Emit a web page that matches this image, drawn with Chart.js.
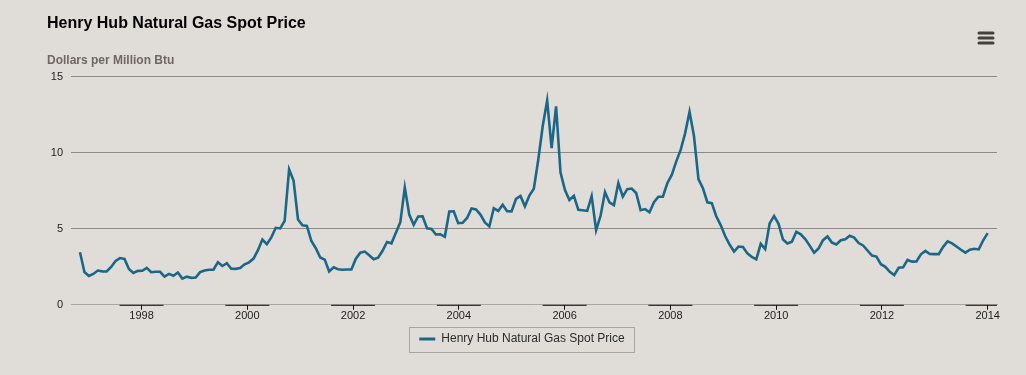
<!DOCTYPE html>
<html>
<head>
<meta charset="utf-8">
<script src="https://cdn.jsdelivr.net/npm/chart.js@4.4.1/dist/chart.umd.min.js"></script>
<style>
  html, body { margin: 0; padding: 0; background: #e0ddd9; }
  #wrap { position: relative; width: 1026px; height: 375px; }
</style>
</head>
<body>
<div id="wrap"><canvas id="c" width="1026" height="375"></canvas></div>
<script>
// Henry Hub monthly spot price, Jan 1997 – Jan 2014 (dollars per million Btu)
const prices1997 = [3.45, 2.15, 1.89, 2.03, 2.25, 2.20, 2.19, 2.49, 2.88, 3.07, 3.01, 2.35];
const prices1998 = [2.09, 2.23, 2.24, 2.43, 2.14, 2.17, 2.17, 1.85, 2.03, 1.91, 2.12, 1.72];
const prices1999 = [1.85, 1.77, 1.79, 2.15, 2.26, 2.30, 2.31, 2.80, 2.55, 2.73, 2.37, 2.36];
const prices2000 = [2.42, 2.66, 2.79, 3.04, 3.59, 4.29, 3.99, 4.43, 5.06, 5.02, 5.52, 8.90];
const prices2001 = [8.17, 5.61, 5.23, 5.19, 4.19, 3.72, 3.11, 2.97, 2.19, 2.46, 2.34, 2.30];
const prices2002 = [2.32, 2.32, 3.03, 3.43, 3.50, 3.26, 2.99, 3.09, 3.55, 4.13, 4.04, 4.74];
const prices2003 = [5.43, 7.71, 5.93, 5.26, 5.81, 5.82, 5.03, 4.99, 4.62, 4.63, 4.47, 6.13];
const prices2004 = [6.14, 5.37, 5.39, 5.71, 6.33, 6.27, 5.93, 5.41, 5.15, 6.35, 6.17, 6.58];
const prices2005 = [6.15, 6.14, 6.96, 7.16, 6.47, 7.18, 7.63, 9.53, 11.75, 13.42, 10.30, 13.05];
const prices2006 = [8.69, 7.54, 6.89, 7.16, 6.25, 6.21, 6.17, 7.14, 4.90, 5.85, 7.41, 6.73];
const prices2007 = [6.55, 8.00, 7.11, 7.60, 7.64, 7.35, 6.22, 6.29, 6.08, 6.74, 7.10, 7.11];
const prices2008 = [7.99, 8.54, 9.41, 10.18, 11.27, 12.69, 11.09, 8.26, 7.67, 6.74, 6.68, 5.82];
const prices2009 = [5.24, 4.52, 3.96, 3.50, 3.83, 3.80, 3.38, 3.14, 2.99, 4.01, 3.66, 5.35];
const prices2010 = [5.83, 5.32, 4.29, 4.03, 4.14, 4.80, 4.63, 4.32, 3.89, 3.43, 3.71, 4.25];
const prices2011 = [4.49, 4.09, 3.97, 4.24, 4.31, 4.54, 4.42, 4.06, 3.90, 3.57, 3.24, 3.17];
const prices2012 = [2.67, 2.50, 2.17, 1.95, 2.43, 2.46, 2.95, 2.84, 2.85, 3.32, 3.54, 3.34];
const prices2013 = [3.33, 3.33, 3.81, 4.17, 4.04, 3.83, 3.62, 3.43, 3.62, 3.68, 3.64, 4.24];
const prices2014 = [4.71];

const prices = [].concat(prices1997, prices1998, prices1999, prices2000, prices2001,
  prices2002, prices2003, prices2004, prices2005, prices2006, prices2007, prices2008,
  prices2009, prices2010, prices2011, prices2012, prices2013, prices2014);

// x-axis tick labels and their positions (in month index units, 0 = Jan 1997)
const tickLabels = ['1998', '2000', '2002', '2004', '2006', '2008', '2010', '2012', '2014'];
const tickIndex  = [13.84, 37.61, 61.38, 85.15, 108.92, 132.69, 156.46, 180.23, 204];

const yTicks = [0, 5, 10, 15];

const seriesName = 'Henry Hub Natural Gas Spot Price';
const LINE = '#1b6788';
const FONT = 'Arial, "Liberation Sans", sans-serif';

const decor = {
  id: 'decor',
  beforeDraw(chart) {
    const ctx = chart.ctx;
    ctx.save();
    ctx.fillStyle = '#e0ddd9';
    ctx.fillRect(0, 0, chart.width, chart.height);
    ctx.restore();
  },
  afterDraw(chart) {
    const ctx = chart.ctx;
    const x = chart.scales.x;
    const a = chart.chartArea;
    ctx.save();
    // dark segments on the axis line around each tick
    ctx.strokeStyle = '#111';
    ctx.lineWidth = 1;
    x.ticks.forEach(t => {
      const px = x.getPixelForValue(t.value);
      const l = Math.max(a.left, px - 22), r = Math.min(a.right, px + 22);
      ctx.beginPath();
      ctx.moveTo(l, a.bottom + 0.5);
      ctx.lineTo(r, a.bottom + 0.5);
      ctx.stroke();
    });
    // legend box
    const hb = chart.legend.legendHitBoxes[0];
    if (hb) {
      const cy = hb.top + hb.height / 2;
      ctx.globalCompositeOperation = 'destination-over';
      ctx.fillStyle = '#c9c5c1';
      ctx.fillRect(hb.left - 10, cy - 12, hb.width + 20, 25);
    }
    ctx.restore();
    if (hb) {
      const cy = hb.top + hb.height / 2;
      ctx.save();
      ctx.strokeStyle = '#a9a5a1';
      ctx.lineWidth = 1;
      ctx.strokeRect(Math.round(hb.left - 10) + 0.5, Math.round(cy - 12) + 0.5, Math.round(hb.width + 20), 25);
      ctx.restore();
    }
    // menu icon
    ctx.save();
    ctx.strokeStyle = '#45403d';
    ctx.lineWidth = 3;
    ctx.lineCap = 'round';
    [33, 38, 43].forEach(y => {
      ctx.beginPath();
      ctx.moveTo(979, y);
      ctx.lineTo(993, y);
      ctx.stroke();
    });
    ctx.restore();
  }
};

new Chart(document.getElementById('c'), {
  type: 'line',
  data: {
    datasets: [{
      label: seriesName,
      data: prices.map((v, i) => ({ x: i, y: v })),
      borderColor: LINE,
      backgroundColor: LINE,
      borderWidth: 2.6,
      pointRadius: 0,
      pointHoverRadius: 0,
      tension: 0,
      fill: false
    }]
  },
  options: {
    responsive: false,
    animation: false,
    events: [],
    layout: { padding: { left: 47, right: 29, top: 0, bottom: 20 } },
    plugins: {
      title: {
        display: true,
        text: 'Henry Hub Natural Gas Spot Price',
        align: 'start',
        color: '#000',
        font: { family: FONT, size: 16, weight: 'bold' },
        padding: { top: 14, bottom: 20 }
      },
      subtitle: {
        display: true,
        text: 'Dollars per Million Btu',
        align: 'start',
        color: '#6e6762',
        font: { family: FONT, size: 12, weight: 'bold' },
        padding: { top: 0, bottom: 9 }
      },
      legend: {
        display: true,
        position: 'bottom',
        labels: {
          color: '#2b2b2b',
          font: { family: FONT, size: 12 },
          boxWidth: 16,
          boxHeight: 3,
          padding: 10,
          generateLabels: (chart) => chart.data.datasets.map((d, i) => ({
            text: d.label,
            fillStyle: d.borderColor,
            strokeStyle: d.borderColor,
            lineWidth: 0,
            fontColor: '#2b2b2b',
            datasetIndex: i
          }))
        }
      },
      tooltip: { enabled: false }
    },
    scales: {
      x: {
        type: 'linear',
        min: -2.02,
        max: 206.1,
        afterBuildTicks: (s) => { s.ticks = tickIndex.map(v => ({ value: v })); },
        ticks: {
          autoSkip: false,
          maxRotation: 0,
          padding: 0,
          color: '#222',
          font: { family: FONT, size: 11 },
          callback: (v, i) => tickLabels[i]
        },
        grid: { drawOnChartArea: false, drawTicks: true, tickLength: 5, color: '#111', lineWidth: 1 },
        border: { display: true, color: '#aaa6a2', width: 1 }
      },
      y: {
        min: 0,
        max: 15,
        afterBuildTicks: (s) => { s.ticks = yTicks.map(v => ({ value: v })); },
        afterFit: (s) => { s.width = 24; },
        ticks: {
          padding: 8,
          color: '#222',
          font: { family: FONT, size: 11 }
        },
        grid: {
          drawTicks: false,
          color: (c) => (c.tick && c.tick.value === 0) ? 'rgba(0,0,0,0)' : '#8e8a87',
          lineWidth: 1
        },
        border: { display: false }
      }
    }
  },
  plugins: [decor]
});
</script>
</body>
</html>
